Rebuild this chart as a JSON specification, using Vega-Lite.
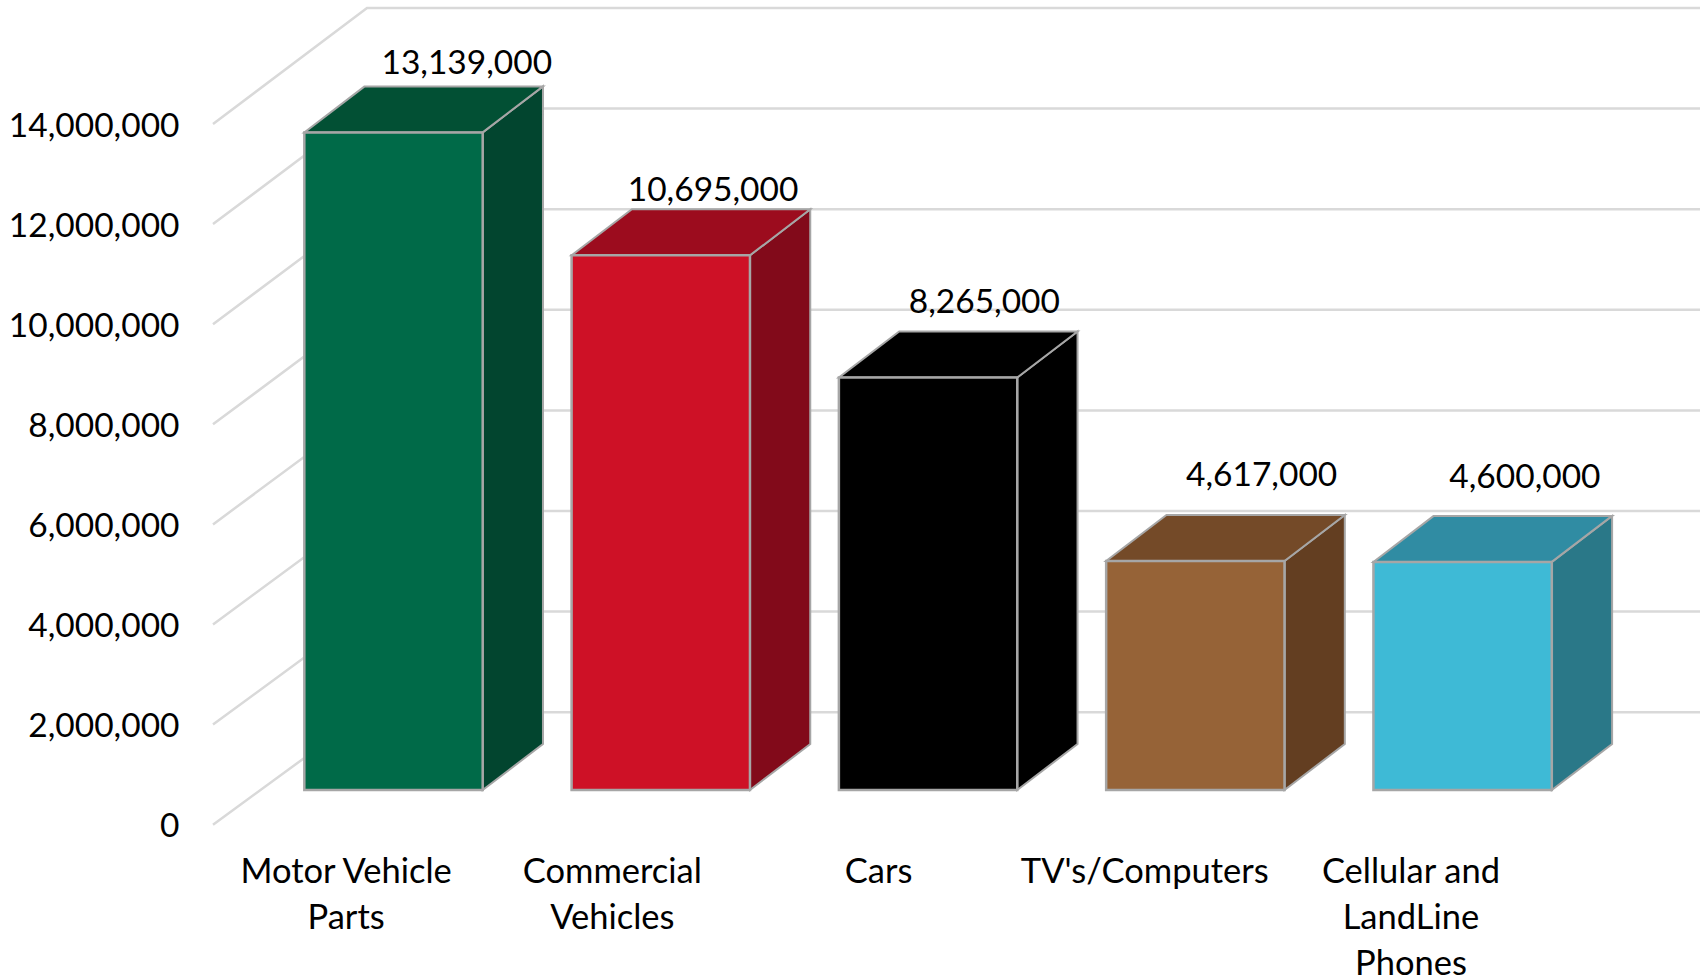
{
  "$schema": "https://vega.github.io/schema/vega-lite/v6.json",
  "width": 1487,
  "height": 816.4,
  "autosize": "none",
  "padding": {"left": 213, "top": 8.3, "right": 0, "bottom": 153.3},
  "background": "white",
  "config": {"view": {"stroke": null}, "font": "Lato", "axisX": {"domain": false, "ticks": false, "labels": false, "grid": false, "title": null}, "axisY": {"labelExpr": "format(datum.value, ',')", "title": null, "domain": false, "ticks": false, "grid": false, "labelFont": "Lato", "labelFontSize": 33.5, "labelColor": "#000000", "labelPadding": 34, "labelBound": false, "labelFlush": false, "labelOffset": 2}},
  "layer": [
    {
      "data": {"values": [{"tick": 0}, {"tick": 2000000}, {"tick": 4000000}, {"tick": 6000000}, {"tick": 8000000}, {"tick": 10000000}, {"tick": 12000000}, {"tick": 14000000}]},
      "transform": [
        {"calculate": "[0,1,2]", "as": "t"},
        {"flatten": ["t"]},
        {"calculate": "[0,0.5768,5.569][datum.t]", "as": "px"},
        {"calculate": "datum.tick+[0,2318000,2318000][datum.t]+(datum.t>0?(14000000-datum.tick)*-0.005:0)", "as": "py"}
      ],
      "mark": {"type": "line", "color": "#d9d9d9", "strokeWidth": 2.5, "clip": false},
      "encoding": {
        "x": {"field": "px", "type": "quantitative", "scale": {"domain": [0, 5.569], "nice": false, "zero": false}, "axis": null},
        "y": {"field": "py", "type": "quantitative", "scale": {"domain": [0, 16312000], "nice": false},
          "axis": {"values": [0, 2000000, 4000000, 6000000, 8000000, 10000000, 12000000, 14000000]}},
        "detail": {"field": "tick"},
        "order": {"field": "t"}
      }
    },
    {
      "data": {"values": [
        {"category": "Motor Vehicle\nParts", "value": 13139000},
        {"category": "Commercial\nVehicles", "value": 10695000},
        {"category": "Cars", "value": 8265000},
        {"category": "TV's/Computers", "value": 4617000},
        {"category": "Cellular and\nLandLine\nPhones", "value": 4600000}
      ]},
      "transform": [
        {"window": [{"op": "row_number", "as": "n"}]},
        {"calculate": "(datum.n-1)*1.001+0.342", "as": "xl"},
        {"calculate": "(datum.n-1)*1.001+1.01", "as": "xr"},
        {"calculate": "693000", "as": "base"},
        {"calculate": "datum.value*1.005+693000-65000", "as": "top"}
      ],
      "layer": [
        {
          "transform": [
            {"calculate": "[0,1]", "as": "t"},
            {"flatten": ["t"]},
            {"calculate": "datum.xr+datum.t*0.2258", "as": "sx"},
            {"calculate": "datum.base+datum.t*919000", "as": "sy"},
            {"calculate": "datum.top+datum.t*919000", "as": "sy2"}
          ],
          "mark": {"type": "area", "orient": "vertical", "stroke": "#a6a6a6", "strokeWidth": 2, "opacity": 1},
          "encoding": {
            "x": {"field": "sx", "type": "quantitative", "scale": {"domain": [0, 5.569], "nice": false, "zero": false}},
            "y": {"field": "sy", "type": "quantitative", "scale": {"domain": [0, 16312000], "nice": false}, "stack": null},
            "y2": {"field": "sy2"},
            "fill": {"field": "category", "type": "nominal", "sort": null, "legend": null, "scale": {"range": ["#02452F", "#820A1A", "#000000", "#633E21", "#2A7888"]}},
            "detail": {"field": "category"}
          }
        },
        {
          "transform": [
            {"calculate": "[0,1]", "as": "t"},
            {"flatten": ["t"]},
            {"calculate": "datum.top+datum.t*919000", "as": "ty"},
            {"calculate": "datum.xl+datum.t*0.2258", "as": "tx"},
            {"calculate": "datum.xr+datum.t*0.2258", "as": "tx2"}
          ],
          "mark": {"type": "area", "orient": "horizontal", "stroke": "#a6a6a6", "strokeWidth": 2, "opacity": 1},
          "encoding": {
            "y": {"field": "ty", "type": "quantitative", "scale": {"domain": [0, 16312000], "nice": false}},
            "x": {"field": "tx", "type": "quantitative", "scale": {"domain": [0, 5.569], "nice": false, "zero": false}, "stack": null},
            "x2": {"field": "tx2"},
            "fill": {"field": "category", "type": "nominal", "sort": null, "legend": null, "scale": {"range": ["#025034", "#9C0C1E", "#000000", "#744A28", "#308CA3"]}},
            "detail": {"field": "category"}
          }
        },
        {
          "mark": {"type": "rect", "stroke": "#a6a6a6", "strokeWidth": 2.5},
          "encoding": {
            "x": {"field": "xl", "type": "quantitative", "scale": {"domain": [0, 5.569], "nice": false, "zero": false}},
            "x2": {"field": "xr"},
            "y": {"field": "top", "type": "quantitative", "scale": {"domain": [0, 16312000], "nice": false}},
            "y2": {"field": "base"},
            "fill": {"field": "category", "type": "nominal", "sort": null, "legend": null, "scale": {"range": ["#006A48", "#CE1126", "#000000", "#966337", "#3EBAD6"]}}
          }
        },
        {
          "transform": [
            {"calculate": "datum.xl+0.334+0.2258+[13,-8,-4,6,2][datum.n-1]/267", "as": "lx"},
            {"calculate": "datum.top+919000+[22,18,29,39,38][datum.n-1]*19980", "as": "ly"}
          ],
          "mark": {"type": "text", "font": "Lato", "fontSize": 33.5, "color": "#000000", "align": "center", "baseline": "middle"},
          "encoding": {
            "x": {"field": "lx", "type": "quantitative", "scale": {"domain": [0, 5.569], "nice": false, "zero": false}},
            "y": {"field": "ly", "type": "quantitative", "scale": {"domain": [0, 16312000], "nice": false}},
            "text": {"field": "value", "type": "quantitative", "format": ","}
          }
        },
        {
          "transform": [
            {"calculate": "(datum.n-0.5)*0.997", "as": "cx"},
            {"calculate": "0", "as": "cy"}
          ],
          "mark": {"type": "text", "font": "Lato", "fontSize": 34.5, "color": "#000000", "align": "center", "baseline": "alphabetic", "lineBreak": "\n", "lineHeight": 46, "dy": 58},
          "encoding": {
            "x": {"field": "cx", "type": "quantitative", "scale": {"domain": [0, 5.569], "nice": false, "zero": false}},
            "y": {"field": "cy", "type": "quantitative", "scale": {"domain": [0, 16312000], "nice": false}},
            "text": {"field": "category", "type": "nominal"}
          }
        }
      ],
      "resolve": {"scale": {"fill": "independent"}}
    }
  ]
}
